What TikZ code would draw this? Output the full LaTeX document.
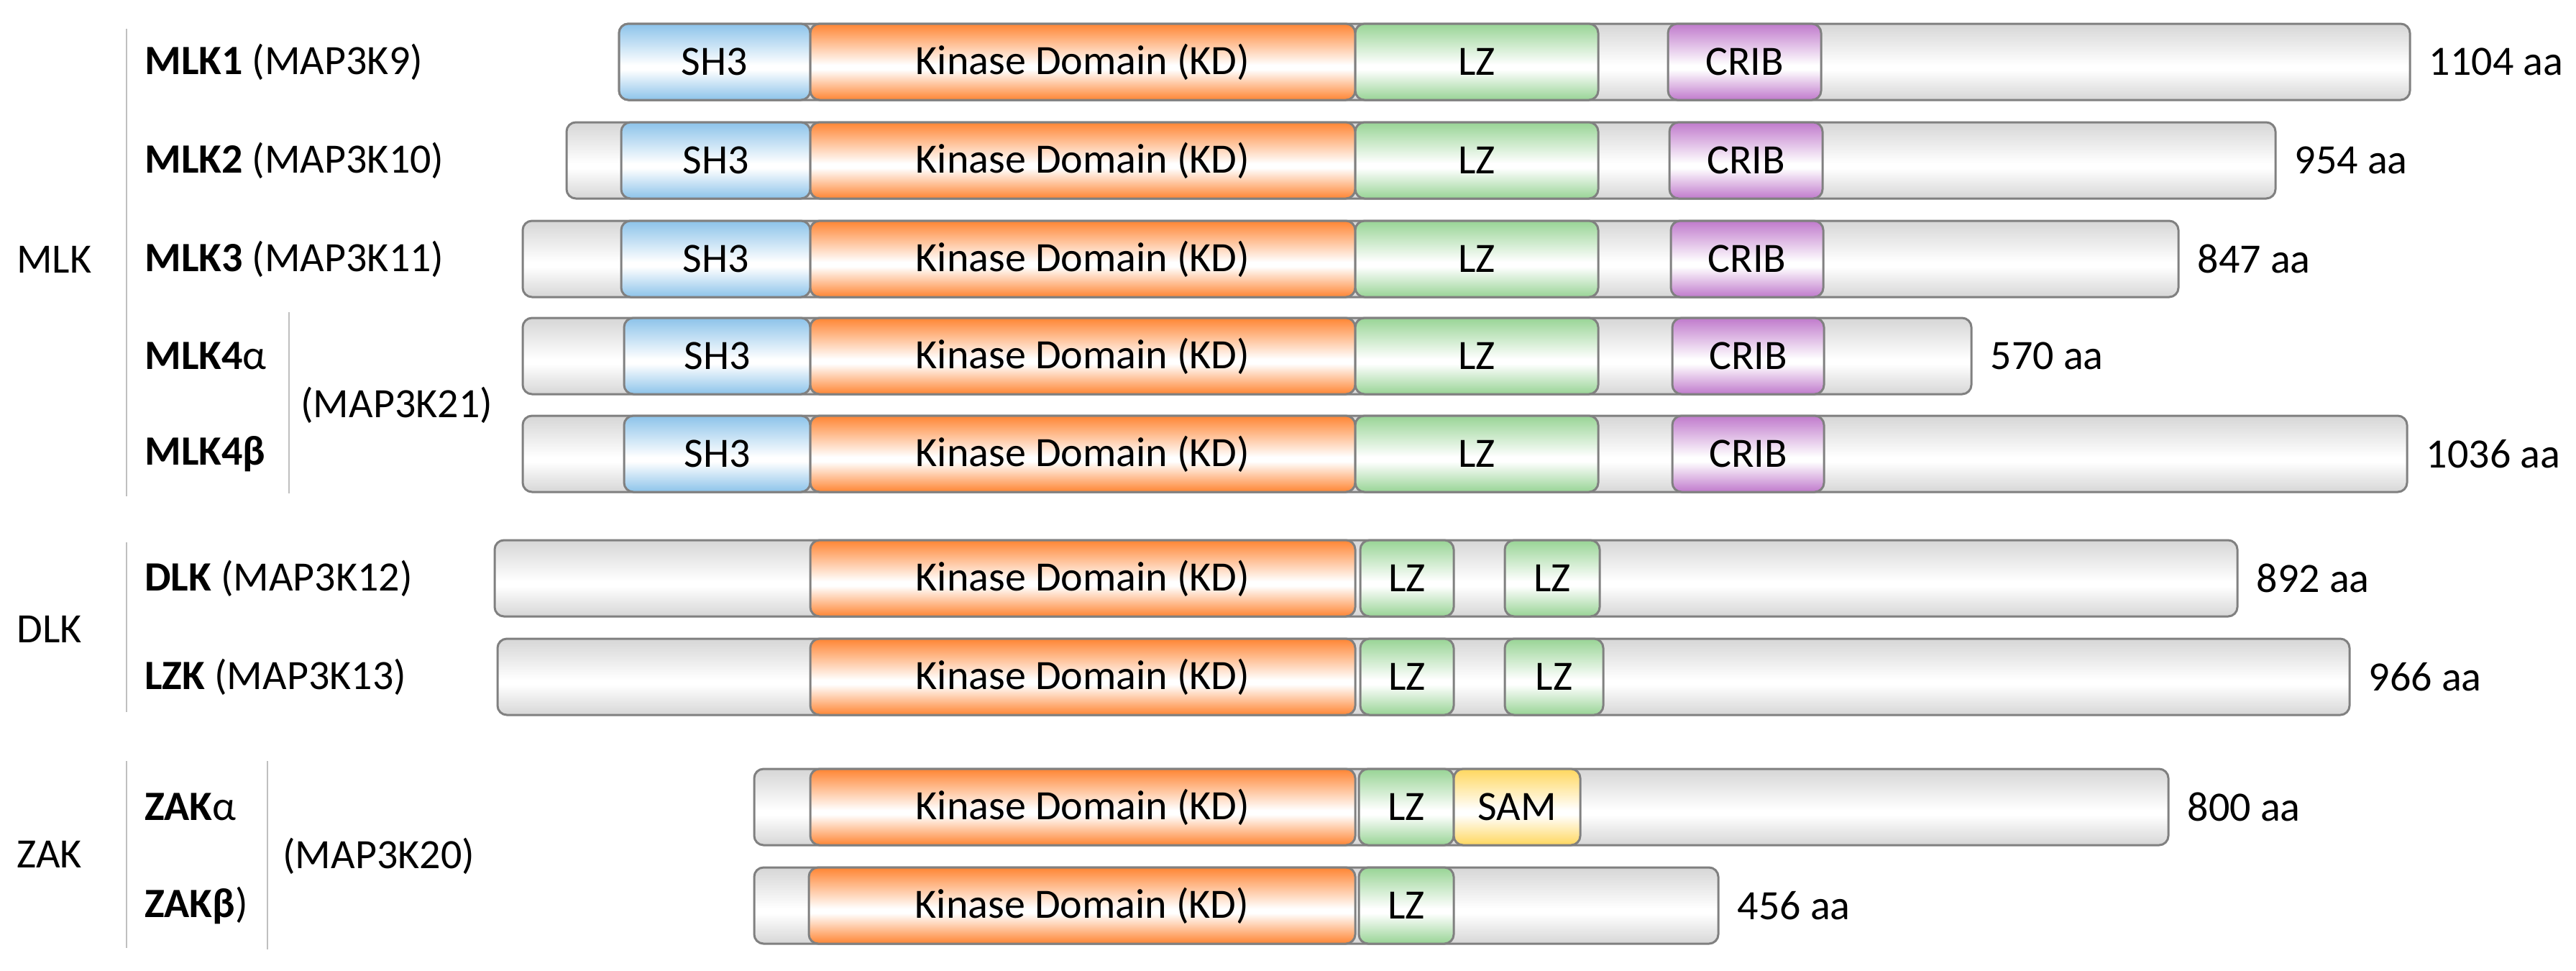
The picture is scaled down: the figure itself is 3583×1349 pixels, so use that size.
\documentclass[tikz,border=0pt]{standalone}
\usepackage{fontspec}
\setmainfont{Carlito}
\usetikzlibrary{positioning}
\definecolor{barline}{HTML}{808080}
\definecolor{barcol}{HTML}{D6D6D6}
\definecolor{sh3col}{HTML}{8CC3EA}
\definecolor{kdcol}{HTML}{FF8533}
\definecolor{lzcol}{HTML}{98D495}
\definecolor{cribcol}{HTML}{C07ACC}
\definecolor{samcol}{HTML}{FFD75E}
\colorlet{domc}{barcol}
\pgfdeclareverticalshading[domc]{domshade}{100bp}{color(0bp)=(domc); color(25bp)=(domc);
  color(45bp)=(white); color(48bp)=(white); color(75bp)=(domc); color(100bp)=(domc)}
\tikzset{
  dom/.style={draw=barline,line width=0.6mm,rounded corners=2.6mm,minimum height=21.2mm,
    inner sep=0pt,/utils/exec={\colorlet{domc}{#1}},shading=domshade},
  bar/.style={dom=barcol},
  sh3/.style={dom=sh3col},
  kd/.style={dom=kdcol},
  lz/.style={dom=lzcol},
  crib/.style={dom=cribcol},
  sam/.style={dom=samcol},
  lab/.style={anchor=west,inner sep=0pt},
  aalab/.style={inner sep=0pt},
  grp/.style={draw=black!25,line width=0.5mm},
}
% protein bar with its length
\newcommand{\protbar}[5]{%
  \node[bar,minimum width={(#3-#2)*0.2mm}] (#1) at ({(#2+#3)/2},#4) {};
  \node[aalab,right=5mm of #1] (#1aa) {#5};}
% one domain
\newcommand{\domn}[6]{%
  \node[#1,minimum width={(#4-#3)*0.2mm}] (#2) at ({(#3+#4)/2},#5) {#6};}

\begin{document}
\begin{tikzpicture}[x=0.2mm,y=-0.2mm,font=\fontsize{33}{40}\selectfont]
  \useasboundingbox (0,0) rectangle (3583,1349);

  % families
  \node[lab] (gmlk) at (23,361) {MLK};
  \node[lab] (gdlk) at (23,875) {DLK};
  \node[lab] (gzak) at (23,1188) {ZAK};
  \draw[grp] (176,40) -- (176,690);
  \draw[grp] (176,754) -- (176,990);
  \draw[grp] (176,1058) -- (176,1318);
  \draw[grp] (402,434) -- (402,686);
  \draw[grp] (372,1058) -- (372,1320);

  % names
  \node[lab] (nmlk1) at (201,86) {\textbf{MLK1} (MAP3K9)};
  \node[lab] (nmlk2) at (201,223) {\textbf{MLK2} (MAP3K10)};
  \node[lab] (nmlk3) at (201,360) {\textbf{MLK3} (MAP3K11)};
  \node[lab] (nmlk4a) at (201,495) {\textbf{MLK4}α};
  \node[lab] (nmlk4b) at (201,631) {\textbf{MLK4β}};
  \node[lab] (nmlk4) at (418,563) {(MAP3K21)};
  \node[lab] (ndlk) at (201,804) {\textbf{DLK} (MAP3K12)};
  \node[lab] (nlzk) at (201,941) {\textbf{LZK} (MAP3K13)};
  \node[lab] (nzaka) at (201,1122) {\textbf{ZAK}α};
  \node[lab] (nzakb) at (201,1259) {\textbf{ZAKβ})};
  \node[lab] (nzak) at (393,1190) {(MAP3K20)};

  % MLK
  \protbar{mlk1}{861}{3352}{86}{1104 aa}
  \domn{sh3}{mlk1sh3}{861}{1127}{86}{SH3}
  \domn{kd}{mlk1kd}{1127}{1885}{86}{Kinase Domain (KD)}
  \domn{lz}{mlk1lz}{1885}{2223}{86}{LZ}
  \domn{crib}{mlk1crib}{2320}{2533}{86}{CRIB}

  \protbar{mlk2}{788}{3165}{223}{954 aa}
  \domn{sh3}{mlk2sh3}{864}{1127}{223}{SH3}
  \domn{kd}{mlk2kd}{1127}{1885}{223}{Kinase Domain (KD)}
  \domn{lz}{mlk2lz}{1885}{2223}{223}{LZ}
  \domn{crib}{mlk2crib}{2322}{2535}{223}{CRIB}

  \protbar{mlk3}{727}{3030}{360}{847 aa}
  \domn{sh3}{mlk3sh3}{864}{1127}{360}{SH3}
  \domn{kd}{mlk3kd}{1127}{1885}{360}{Kinase Domain (KD)}
  \domn{lz}{mlk3lz}{1885}{2223}{360}{LZ}
  \domn{crib}{mlk3crib}{2324}{2536}{360}{CRIB}

  \protbar{mlk4a}{727}{2742}{495}{570 aa}
  \domn{sh3}{mlk4ash3}{868}{1127}{495}{SH3}
  \domn{kd}{mlk4akd}{1127}{1885}{495}{Kinase Domain (KD)}
  \domn{lz}{mlk4alz}{1885}{2223}{495}{LZ}
  \domn{crib}{mlk4acrib}{2326}{2537}{495}{CRIB}

  \protbar{mlk4b}{727}{3348}{631}{1036 aa}
  \domn{sh3}{mlk4bsh3}{868}{1127}{631}{SH3}
  \domn{kd}{mlk4bkd}{1127}{1885}{631}{Kinase Domain (KD)}
  \domn{lz}{mlk4blz}{1885}{2223}{631}{LZ}
  \domn{crib}{mlk4bcrib}{2326}{2537}{631}{CRIB}

  % DLK
  \protbar{dlk}{688}{3112}{804}{892 aa}
  \domn{kd}{dlkkd}{1127}{1885}{804}{Kinase Domain (KD)}
  \domn{lz}{dlklza}{1892}{2022}{804}{LZ}
  \domn{lz}{dlklzb}{2093}{2225}{804}{LZ}

  \protbar{lzk}{692}{3268}{941}{966 aa}
  \domn{kd}{lzkkd}{1127}{1885}{941}{Kinase Domain (KD)}
  \domn{lz}{lzklza}{1892}{2022}{941}{LZ}
  \domn{lz}{lzklzb}{2093}{2230}{941}{LZ}

  % ZAK
  \protbar{zaka}{1049}{3016}{1122}{800 aa}
  \domn{kd}{zakakd}{1127}{1885}{1122}{Kinase Domain (KD)}
  \domn{lz}{zakalz}{1890}{2022}{1122}{LZ}
  \domn{sam}{zakasam}{2022}{2198}{1122}{SAM}

  \protbar{zakb}{1049}{2390}{1259}{456 aa}
  \domn{kd}{zakbkd}{1125}{1885}{1259}{Kinase Domain (KD)}
  \domn{lz}{zakblz}{1890}{2022}{1259}{LZ}
\end{tikzpicture}
\end{document}
